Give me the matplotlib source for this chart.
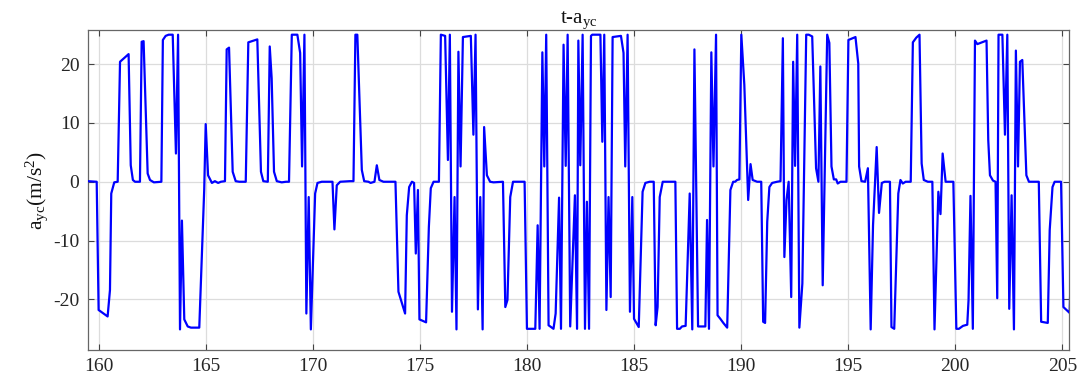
import matplotlib
matplotlib.use("Agg")
import matplotlib.pyplot as plt

# ---------------------------------------------------------------------------
# Data: time (s) and lateral acceleration a_yc (m/s^2)
# ---------------------------------------------------------------------------
t = [
    159.49, 159.91, 160.00, 160.42, 160.53, 160.59, 160.73, 160.89, 161.00, 161.40,
    161.50, 161.60, 161.70, 161.93, 162.01, 162.10, 162.29, 162.40, 162.58, 162.93,
    163.00, 163.13, 163.27, 163.46, 163.61, 163.71, 163.80, 163.89, 164.00, 164.16,
    164.31, 164.70, 164.93, 165.00, 165.11, 165.29, 165.43, 165.58, 165.71, 165.90,
    165.98, 166.09, 166.26, 166.40, 166.57, 166.87, 166.99, 167.41, 167.58, 167.69,
    167.90, 167.99, 168.08, 168.19, 168.32, 168.55, 168.75, 168.89, 169.02, 169.28,
    169.41, 169.50, 169.61, 169.70, 169.81, 169.91, 170.11, 170.22, 170.42, 170.65,
    170.92, 171.01, 171.12, 171.28, 171.74, 171.90, 171.99, 172.08, 172.29, 172.40,
    172.60, 172.70, 172.88, 172.99, 173.11, 173.30, 173.53, 173.86, 174.00, 174.31,
    174.39, 174.50, 174.63, 174.73, 174.81, 174.91, 174.98, 175.29, 175.42, 175.51,
    175.64, 175.89, 175.98, 176.18, 176.31, 176.40, 176.50, 176.62, 176.71, 176.80,
    176.90, 177.01, 177.38, 177.50, 177.60, 177.71, 177.82, 177.93, 178.00, 178.13,
    178.28, 178.44, 178.88, 178.99, 179.09, 179.22, 179.35, 179.56, 179.89, 180.00,
    180.39, 180.50, 180.59, 180.72, 180.81, 180.90, 181.01, 181.24, 181.34, 181.50,
    181.59, 181.71, 181.81, 181.90, 182.02, 182.24, 182.34, 182.40, 182.49, 182.60,
    182.71, 182.80, 182.90, 182.99, 183.05, 183.43, 183.52, 183.61, 183.71, 183.81,
    183.91, 184.00, 184.39, 184.51, 184.59, 184.70, 184.81, 184.92, 185.00, 185.11,
    185.22, 185.40, 185.53, 185.73, 185.92, 186.01, 186.10, 186.20, 186.34, 186.54,
    186.70, 186.93, 187.01, 187.14, 187.24, 187.41, 187.60, 187.72, 187.82, 187.99,
    188.33, 188.41, 188.50, 188.61, 188.71, 188.83, 188.90, 189.03, 189.17, 189.35,
    189.50, 189.63, 189.72, 189.81, 189.92, 190.01, 190.15, 190.33, 190.44, 190.54,
    190.75, 190.94, 191.03, 191.12, 191.22, 191.32, 191.45, 191.68, 191.84, 191.95,
    192.02, 192.12, 192.22, 192.34, 192.43, 192.52, 192.62, 192.72, 192.86, 193.04,
    193.16, 193.32, 193.50, 193.61, 193.70, 193.81, 194.02, 194.12, 194.22, 194.33,
    194.44, 194.51, 194.64, 194.92, 195.01, 195.34, 195.47, 195.51, 195.62, 195.79,
    195.92, 196.05, 196.16, 196.33, 196.44, 196.57, 196.70, 196.95, 197.02, 197.15,
    197.34, 197.44, 197.55, 197.68, 197.92, 198.02, 198.18, 198.33, 198.43, 198.53,
    198.72, 198.93, 199.03, 199.21, 199.31, 199.41, 199.55, 199.75, 199.91, 200.05,
    200.17, 200.36, 200.56, 200.62, 200.71, 200.82, 200.92, 201.03, 201.46, 201.54,
    201.62, 201.76, 201.88, 201.96, 202.02, 202.20, 202.32, 202.43, 202.52, 202.63,
    202.74, 202.83, 202.93, 203.02, 203.13, 203.32, 203.44, 203.67, 203.90, 204.01,
    204.32, 204.41, 204.54, 204.64, 204.94, 205.05, 205.34, 205.40,
]
a_yc = [
    0.1, 0.0, -21.8, -22.9, -18.4, -2.0, -0.1, 0.0, 20.4, 21.7,
    2.8, 0.3, 0.0, 0.0, 23.8, 23.9, 1.4, 0.3, -0.1, 0.0,
    24.1, 24.8, 25.0, 25.0, 4.8, 25.0, -25.1, -6.6, -23.4, -24.6,
    -24.8, -24.8, -1.4, 9.8, 1.1, -0.2, 0.1, -0.2, 0.0, 0.1,
    22.5, 22.8, 1.7, 0.1, 0.0, 0.0, 23.7, 24.2, 1.7, 0.1,
    0.0, 23.0, 17.6, 1.7, 0.1, -0.1, 0.0, 0.0, 25.0, 25.0,
    21.9, 2.6, 25.0, -22.4, -2.6, -25.1, -2.0, -0.2, 0.0, 0.0,
    0.0, -8.1, -0.6, 0.0, 0.1, 0.1, 25.0, 25.0, 2.0, 0.1,
    0.0, -0.2, 0.0, 2.8, 0.3, 0.0, 0.0, 0.0, -18.7, -22.4,
    -5.7, -0.9, 0.0, -0.2, -12.2, -1.4, -23.4, -23.9, -7.7, -1.1,
    0.0, 0.0, 25.0, 24.8, 3.7, 25.0, -22.1, -2.6, -25.1, 22.1,
    2.6, 24.6, 24.8, 8.0, 25.0, -21.7, -2.6, -25.1, 9.3, 1.1,
    0.0, -0.1, 0.0, -21.3, -20.1, -2.6, 0.0, 0.0, 0.0, -25.0,
    -25.0, -7.4, -25.0, 22.0, 2.6, 25.0, -24.4, -25.0, -22.4, -2.7,
    -25.0, 23.3, 2.7, 25.0, -24.6, -2.3, -25.0, 24.0, 2.8, 25.0,
    -25.0, -3.4, -25.0, 24.8, 25.0, 25.0, 6.8, 25.0, -21.8, -2.6,
    -19.6, 24.6, 24.8, 21.9, 2.6, 25.0, -22.1, -2.6, -23.3, -24.0,
    -24.7, -1.7, -0.2, 0.0, 0.0, -24.4, -21.3, -2.6, 0.0, 0.0,
    0.0, 0.0, -25.0, -25.0, -24.6, -24.5, -2.0, -25.1, 22.5, -24.6,
    -24.6, -6.5, -25.0, 22.0, 2.6, 25.0, -22.7, -23.3, -24.0, -24.8,
    -1.4, 0.0, 0.0, 0.3, 0.4, 25.0, 16.5, -3.1, 3.0, 0.3,
    0.0, 0.0, -23.8, -24.0, -6.8, -0.9, -0.2, 0.0, 0.1, 24.4,
    -12.8, -3.1, 0.0, -19.6, 20.4, 2.7, 25.0, -24.8, -17.3, 25.0,
    25.0, 24.7, 2.3, 0.0, 19.6, -17.6, 25.0, 23.6, 2.6, 0.4,
    0.4, -0.3, 0.0, 0.0, 24.1, 24.6, 20.1, 2.6, 0.1, 0.0,
    2.3, -25.1, -7.4, 5.9, -5.3, -0.2, 0.0, 0.0, -24.7, -25.0,
    -2.0, 0.3, -0.3, 0.0, 0.0, 23.7, 24.5, 25.0, 3.1, 0.3,
    0.0, 0.0, -25.1, -1.7, -5.5, 4.8, 0.0, 0.0, 0.0, -25.0,
    -25.0, -24.5, -24.3, -20.1, -2.4, -25.0, 24.0, 23.4, 24.0, 7.1,
    1.1, 0.2, 0.0, -19.8, 25.0, 25.0, 8.0, 25.0, -21.6, -2.3,
    -25.1, 22.3, 2.6, 20.4, 20.7, 1.1, 0.0, 0.0, 0.0, -23.8,
    -24.0, -8.2, -0.9, 0.0, 0.0, -21.3, -22.3, -14.5,
]

x_ticks = [160, 165, 170, 175, 180, 185, 190, 195, 200, 205]
y_ticks = [-20, -10, 0, 10, 20]

# ---------------------------------------------------------------------------
# Fonts: Times-like serif for text and mathtext sub/superscripts
# ---------------------------------------------------------------------------
plt.rcParams["font.family"] = ["Liberation Serif", "DejaVu Serif"]
plt.rcParams["mathtext.fontset"] = "custom"
plt.rcParams["mathtext.rm"] = "Liberation Serif"
plt.rcParams["mathtext.it"] = "Liberation Serif:italic"
plt.rcParams["axes.unicode_minus"] = False

fig = plt.figure(figsize=(10.8, 3.86), dpi=100)
ax = fig.add_axes([0.0812, 0.0933, 0.9090, 0.8290])

ax.plot(t, a_yc, color="#0000ff", linewidth=1.6, zorder=3)

ax.set_xlim(159.49, 205.33)
ax.set_ylim(-28.6, 25.8)
ax.set_xticks(x_ticks)
ax.set_yticks(y_ticks)

ax.grid(True, color="#dcdcdc", linewidth=0.9)
ax.set_axisbelow(True)

ax.tick_params(direction="in", top=True, right=True, length=4, width=0.8,
               colors="#444444", labelcolor="#262626", labelsize=14, pad=6)
for sp in ax.spines.values():
    sp.set_color("#666666")
    sp.set_linewidth(0.9)

ax.set_title(r"t-a$_{\mathrm{yc}}$", fontsize=15, color="#111111", pad=5)
ax.set_ylabel(r"a$_{\mathrm{yc}}$(m/s$^{\mathrm{2}}$)", fontsize=15.5,
              color="#111111", labelpad=2)

fig.savefig("out.png", dpi=100)
